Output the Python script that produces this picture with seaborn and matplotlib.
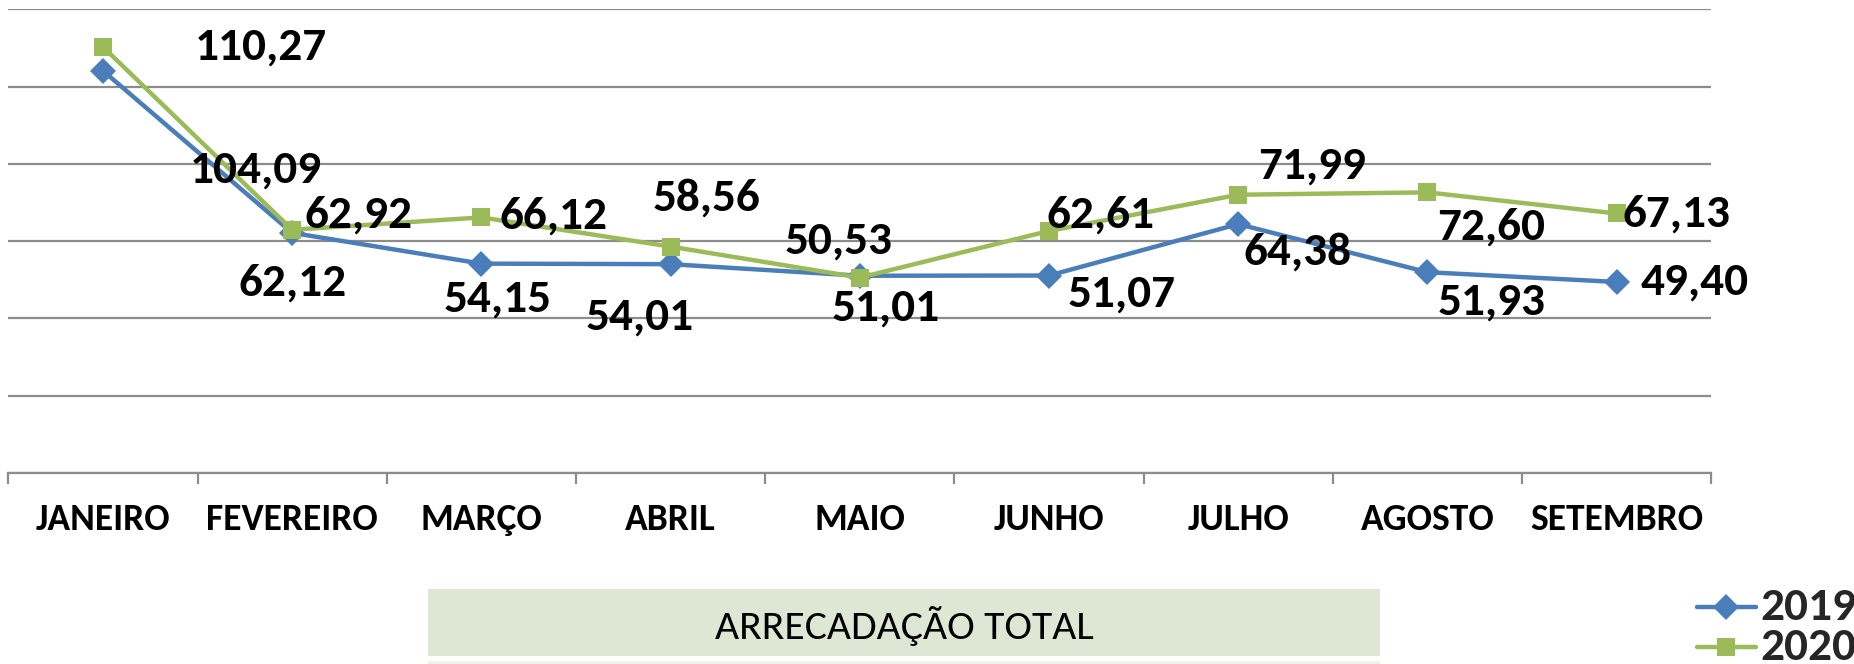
import numpy as np
import pandas as pd
import seaborn as sns
import matplotlib
import matplotlib.pyplot as plt
from matplotlib import font_manager
from matplotlib.patches import Rectangle
from matplotlib.lines import Line2D

months = ["JANEIRO", "FEVEREIRO", "MARÇO", "ABRIL", "MAIO", "JUNHO", "JULHO", "AGOSTO", "SETEMBRO"]
vals_2019 = [104.09, 62.12, 54.15, 54.01, 51.01, 51.07, 64.38, 51.93, 49.40]
vals_2020 = [110.27, 62.92, 66.12, 58.56, 50.53, 62.61, 71.99, 72.60, 67.13]
years = ["2019", "2020"]
title_box = "ARRECADAÇÃO TOTAL"

# pick a Calibri-like font if one is installed
installed = set(f.name for f in font_manager.fontManager.ttflist)
candidates = ["Carlito", "Liberation Sans Narrow", "PT Sans Narrow", "Archivo Narrow", "Roboto Condensed", "Lato"]
main_font = next((c for c in candidates if c in installed), "DejaVu Sans")

sns.set_theme(style="white")
plt.rcParams['font.family'] = [main_font, 'DejaVu Sans']

df = pd.DataFrame({
    "mes": list(range(len(months))) * 2,
    "valor": vals_2019 + vals_2020,
    "ano": [years[0]] * len(months) + [years[1]] * len(months),
})

colors = {"2019": "#4A7EBB", "2020": "#9BBB59"}
markers = {"2019": "D", "2020": "s"}

fig = plt.figure(figsize=(18.54, 6.64), dpi=100)
ax = fig.add_axes([0.0045, 0.288, 0.9185, 0.698])

sns.lineplot(data=df, x="mes", y="valor", hue="ano", style="ano", palette=colors,
             markers=markers, dashes=False, ax=ax, linewidth=3.2, markersize=13,
             markeredgewidth=0, legend=False)

ax.set_ylim(0, 120)
ax.set_xlim(-0.5, len(months) - 0.5)
ax.set_yticks(np.arange(0, 121, 20))
ax.set_yticklabels([])
ax.yaxis.grid(True, color="#8C8C8C", linewidth=1.6)
ax.set_axisbelow(True)
for s in ["top", "right", "left"]:
    ax.spines[s].set_visible(False)
ax.spines["bottom"].set_color("#8C8C8C")
ax.spines["bottom"].set_linewidth(1.6)
ax.tick_params(axis="y", length=0)

ax.set_xticks(range(len(months)))
ax.set_xticklabels(months, fontsize=27, fontweight="bold", color="black")
ax.set_xticks(np.arange(-0.5, len(months), 1), minor=True)
ax.tick_params(axis="x", which="major", length=0, pad=22)
ax.tick_params(axis="x", which="minor", length=8, width=1.6, color="#8C8C8C", bottom=True)
ax.set_xlabel("")
ax.set_ylabel("")

# label offsets (points) for each value
off_2019 = [(110, -71), (0, -36), (12, -25), (-22, -38), (19, -23), (52, -13), (43, -20), (46, -21), (56, 0)]
off_2020 = [(114, 0), (48, 11), (52, 1), (26, 35), (-15, 27), (37, 12), (53, 21), (46, -25), (43, 0)]

for vals, offs in [(vals_2019, off_2019), (vals_2020, off_2020)]:
    for i, (v, o) in enumerate(zip(vals, offs)):
        ax.annotate(f"{v:.2f}".replace(".", ","), (i, v), xytext=o, textcoords="offset points",
                    ha="center", va="center", fontsize=34, fontweight="bold", color="black")

# legend
for yr, yy in zip(years, [0.086, 0.025]):
    fig.add_artist(Line2D([1697 / 1854, 1756 / 1854], [yy, yy], transform=fig.transFigure,
                          color=colors[yr], linewidth=3.2))
    fig.add_artist(Line2D([1726 / 1854], [yy], transform=fig.transFigure, color=colors[yr],
                          marker=markers[yr], markersize=13, markeredgewidth=0, linestyle="none"))
    fig.text(1760 / 1854, yy, yr, fontsize=34, fontweight="bold", va="center", ha="left")

# title box below the chart
fig.add_artist(Rectangle((428 / 1854, 1 - 656 / 664), (1380 - 428) / 1854, 67 / 664,
                         transform=fig.transFigure, facecolor="#DDE7D3", edgecolor="none"))
fig.add_artist(Rectangle((428 / 1854, 0), (1380 - 428) / 1854, 3 / 664,
                         transform=fig.transFigure, facecolor="#EEF2EA", edgecolor="none"))
fig.text(904 / 1854, 1 - 626 / 664, title_box, fontsize=30, ha="center", va="center", color="black")

fig.savefig("out.png", dpi=100)
